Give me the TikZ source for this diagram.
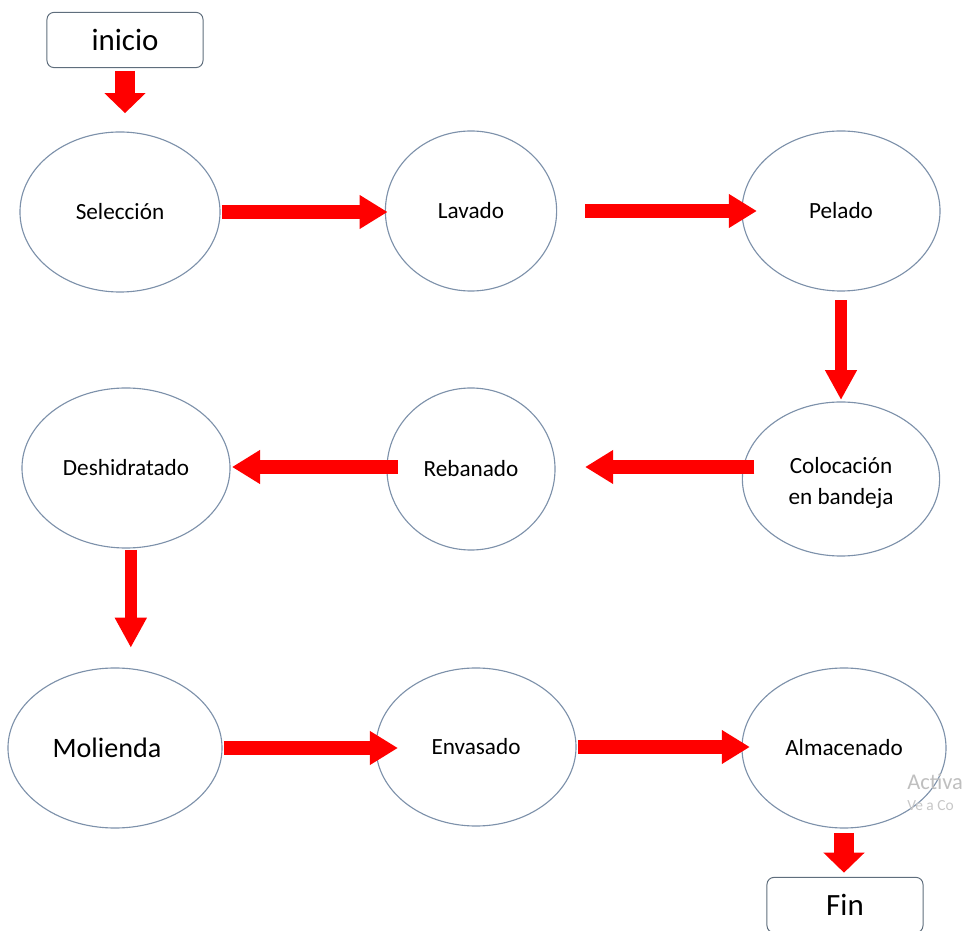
\documentclass[tikz,border=0pt]{standalone}
\usepackage{fontspec}
\setmainfont{Carlito}
\usetikzlibrary{shapes.geometric,arrows.meta}

\definecolor{rim}{RGB}{125,145,170}
\definecolor{boxrim}{RGB}{95,110,125}

\begin{document}
\begin{tikzpicture}[x=0.025cm, y=-0.025cm,
    etapa/.style={ellipse, draw=rim, line width=0.8pt, inner sep=0pt,
        minimum width=5cm, minimum height=4cm, font=\fontsize{16.5}{22}\selectfont, align=center},
    caja/.style={rectangle, rounded corners=5pt, draw=boxrim, line width=0.7pt,
        minimum width=3.9cm, minimum height=1.38cm, font=\fontsize{22}{25}\selectfont},
    flujo/.style={draw=red, line width=0.34cm, -{Triangle[length=0.7cm, width=0.8cm]}},
    bajada/.style={draw=red, line width=0.3cm, -{Triangle[length=0.75cm, width=0.75cm]}},
    bloque/.style={draw=red, line width=0.48cm, -{Triangle[length=0.5cm, width=1cm]}}]

    \useasboundingbox (0, 0) rectangle (969, 931);

    % inicio y fin
    \node[caja] (inicio) at (125, 40) {inicio};
    \node[caja] (fin) at (845, 905) {Fin};

    % primera fila
    \node[etapa] (sel) at (120, 212) {Selección};
    \node[etapa, minimum width=4.28cm] (lav) at (471, 211) {Lavado};
    \node[etapa, minimum width=4.95cm] (pel) at (841, 211) {Pelado};

    % segunda fila
    \node[etapa, minimum width=5.2cm] (des) at (126, 468) {Deshidratado};
    \node[etapa, minimum width=4.2cm, minimum height=4.05cm] (reb) at (471, 469) {Rebanado};
    \node[etapa, minimum width=4.93cm, minimum height=3.85cm] (col) at (841, 479) {};
    \node[font=\fontsize{16.5}{22}\selectfont, align=center, inner sep=0pt] (coltxt) at (841, 483) {Colocación\\en bandeja};

    % tercera fila
    \node[etapa, minimum width=5.35cm] (mol) at (115, 748) {};
    \node[font=\fontsize{20}{23}\selectfont, inner sep=0pt] (moltxt) at (107, 748) {Molienda};
    \node[etapa, minimum height=3.95cm] (env) at (476, 747) {Envasado};
    \node[etapa, minimum width=5.1cm] (alm) at (844, 748) {Almacenado};

    % flechas
    \draw[bloque, shorten <=2pt, shorten >=13pt] (inicio.south) -- (inicio.south |- sel.north);

    \draw[flujo, shorten <=1pt, shorten >=-2pt] (sel.east) -- (sel.east -| lav.west);
    \draw[flujo, shorten <=20pt, shorten >=-11pt] (lav.east) -- (lav.east -| pel.west);

    \draw[bajada, shorten <=6pt, shorten >=1pt] (pel.south) -- (col.north);

    \draw[flujo, shorten <=-9pt, shorten >=21pt] ([yshift=0.3cm]col.west) -- ([yshift=0.3cm]col.west -| reb.east);
    \draw[flujo, shorten <=-8pt, shorten >=1pt] ([yshift=0.05cm]reb.west) -- ([yshift=0.05cm]reb.west -| des.east);

    \draw[bajada, shorten <=1pt, shorten >=14pt] ([xshift=0.12cm]des.south) -- ([xshift=0.12cm]des.south |- mol.north);

    \draw[flujo, shorten <=1pt, shorten >=-16pt] (mol.east) -- (mol.east -| env.west);
    \draw[flujo, shorten <=1pt, shorten >=-6pt] (env.east) -- (env.east -| alm.west);

    \draw[bloque, shorten <=3pt, shorten >=3pt] (alm.south) -- (alm.south |- fin.north);

    % marca de agua
    \begin{scope}
        \clip (0, 0) rectangle (969, 931);
        \node[anchor=west, text=black!25, font=\fontsize{16}{19}\selectfont, inner sep=0pt] (act) at (907, 782) {Activa};
        \node[anchor=west, text=black!22, font=\fontsize{11}{13}\selectfont, inner sep=0pt] (vea) at (907, 806) {Ve a Co};
    \end{scope}
\end{tikzpicture}
\end{document}
